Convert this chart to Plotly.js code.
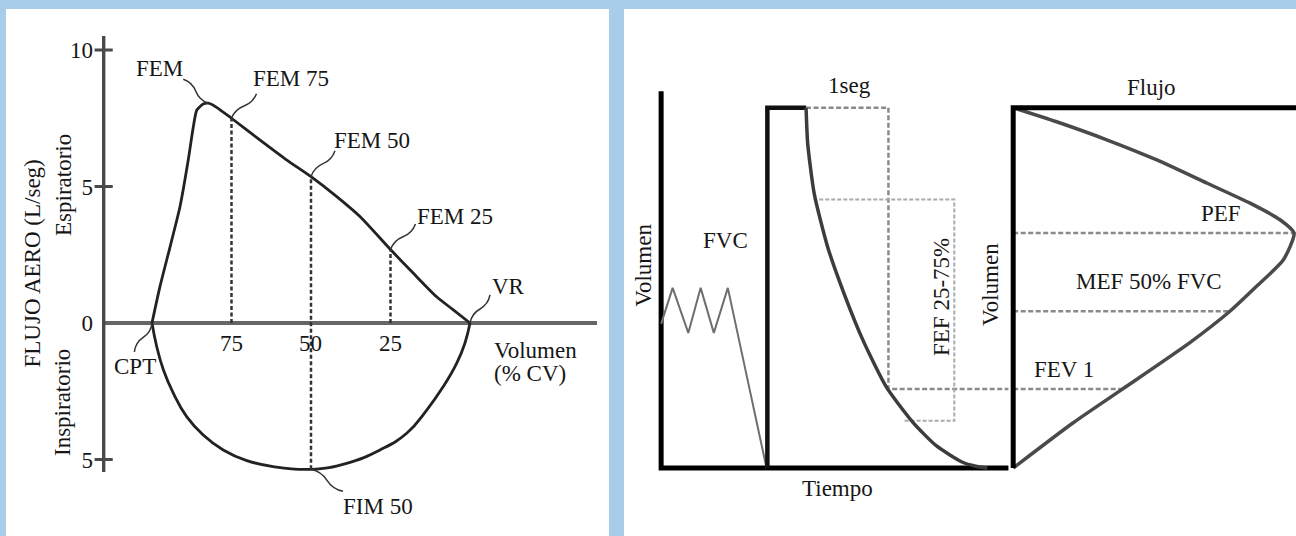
<!DOCTYPE html>
<html><head><meta charset="utf-8">
<script src="https://cdn.plot.ly/plotly-3.0.1.min.js"></script>
<style>html,body{margin:0;padding:0;background:#a9cce9;}#chart{width:1296px;height:536px;}</style>
</head><body><div id="chart"></div>
<script>
// ===== Left panel: flow-volume loop (x = % CV, y = L/seg) =====
const expVolume = [100, 97.5, 94.3, 91.2, 88.6, 87, 85.9, 83.9, 82.3, 79.7, 75, 66, 57.6, 50, 41.9, 34.6, 25, 17.8, 10.5, 5.25, 0];
const expFlow   = [0, 1.33, 2.8, 4.26, 5.97, 7.19, 7.8, 8.02, 8.05, 7.9, 7.5, 6.7, 5.97, 5.36, 4.63, 3.9, 2.69, 1.82, 0.96, 0.48, 0];
const inspVolume = [100, 98.5, 96.4, 93.3, 89.1, 83.9, 77.6, 70.2, 61.9, 50, 38.8, 28.3, 19.9, 13.6, 8.4, 4.2, 1.6, 0];
const inspFlow   = [0, -0.87, -1.72, -2.57, -3.43, -4.10, -4.65, -5.04, -5.26, -5.36, -5.14, -4.65, -4.04, -3.19, -2.33, -1.48, -0.74, 0];
const markVolumes = [75, 50, 25];
const markExpFlow = [7.5, 5.36, 2.69];
const fim50Flow = -5.36;
const yAxisVol = 115.2;
const yAxisSpan = [10.513, -5.458];
const yTickVals = [10, 5, 0, -5];
const yTickText = ['10', '5', '0', '5'];
const yCrossTicks = [10, 5, -5];
const xTickText = ['75', '50', '25'];

// ===== Right panel: spirogram (x = tiempo s, y = volumen %) =====
const spiroAxisT = [-1.76, -1.76, 2.457];
const spiroAxisV = [104.6, 0, 0];
const tidalT = [-1.76, -1.62, -1.43, -1.28, -1.12, -0.95, -0.48];
const tidalV = [40, 50, 37.5, 50, 37.5, 50, 0];
const inhaleT = [-0.47, -0.47, 0];
const inhaleV = [0, 100, 100];
const forcedT = [0, 0.02, 0.10, 0.26, 0.46, 0.70, 0.98, 1.30, 1.58, 1.90, 2.06, 2.20];
const forcedV = [100, 90, 76, 61.5, 48.5, 35, 22.3, 12.6, 6.2, 1.6, 0.5, 0];
const fev1Vol = 21.9;
const oneSecT = [0, 1, 1, 2.457];
const oneSecV = [100, 100, fev1Vol, fev1Vol];
const fefBoxT = [0.16, 1.80, 1.80, 1.18];
const fefBoxV = [74.5, 74.5, 13.1, 13.1];

// ===== Right panel: flow-volume (x = flujo, y = volumen %) =====
const fvFrameF = [10.1, 0, 0];
const fvFrameV = [100, 100, 0];
const fvFlow = [0, 1.55, 3.34, 5.13, 6.91, 8.46, 9.53, 10.03, 9.65, 8.70, 7.74, 6.31, 3.90, 2.13, 0];
const fvVol  = [100, 96.1, 91.1, 85.5, 79.1, 73.5, 68.9, 65.2, 57.8, 50.5, 43.5, 34.8, 21.9, 12.5, 0];
const pefVol = 65.2, pefLineEnd = 10.1;
const mefVol = 43.5, mefFlow = 7.74;
const fev1Flow = 3.90;

const W = 1296, H = 536;
const px = x => x / W;
const py = y => 1 - y / H;
const FONT = '"Liberation Serif", "Times New Roman", serif';
const TXT = '#161616';

const traces = [];
// left y axis line
traces.push({x: [yAxisVol, yAxisVol], y: yAxisSpan, mode: 'lines', line: {color: '#4a4a4a', width: 3.5}, xaxis: 'x', yaxis: 'y', hoverinfo: 'skip'});
// left loop
traces.push({x: expVolume, y: expFlow, mode: 'lines', line: {color: '#222', width: 2.8, shape: 'spline', smoothing: 0.6}, xaxis: 'x', yaxis: 'y', hoverinfo: 'skip'});
traces.push({x: inspVolume, y: inspFlow, mode: 'lines', line: {color: '#222', width: 2.8, shape: 'spline', smoothing: 1.3}, xaxis: 'x', yaxis: 'y', hoverinfo: 'skip'});
// dashed verticals
const dashX = [], dashY = [];
markVolumes.forEach((v, i) => {
  const lo = v === 50 ? fim50Flow : 0;
  dashX.push(v, v, null); dashY.push(lo, markExpFlow[i], null);
});
traces.push({x: dashX, y: dashY, mode: 'lines', line: {color: '#333', width: 2.5, dash: '4px,2.5px'}, xaxis: 'x', yaxis: 'y', hoverinfo: 'skip'});
// crossing ticks on the y axis
traces.push({x: yCrossTicks.map(() => yAxisVol), y: yCrossTicks, mode: 'markers', cliponaxis: false,
  marker: {symbol: 'line-ew', size: 13, line: {width: 3, color: '#4a4a4a'}}, xaxis: 'x', yaxis: 'y', hoverinfo: 'skip'});

// spirogram
traces.push({x: spiroAxisT, y: spiroAxisV, mode: 'lines', line: {color: '#000', width: 5}, xaxis: 'x2', yaxis: 'y2', hoverinfo: 'skip'});
traces.push({x: tidalT, y: tidalV, mode: 'lines', line: {color: '#6e6e6e', width: 2}, xaxis: 'x2', yaxis: 'y2', hoverinfo: 'skip'});
traces.push({x: inhaleT, y: inhaleV, mode: 'lines', line: {color: '#111', width: 4.5}, xaxis: 'x2', yaxis: 'y2', hoverinfo: 'skip'});
traces.push({x: oneSecT, y: oneSecV, mode: 'lines', line: {color: '#8a8a8a', width: 2.5, dash: '5px,2.5px'}, xaxis: 'x2', yaxis: 'y2', hoverinfo: 'skip'});
traces.push({x: fefBoxT, y: fefBoxV, mode: 'lines', line: {color: '#aaaaaa', width: 2, dash: '4px,2px'}, xaxis: 'x2', yaxis: 'y2', hoverinfo: 'skip'});
traces.push({x: forcedT, y: forcedV, mode: 'lines', line: {color: '#3c3c3c', width: 3.5, shape: 'spline', smoothing: 0.6}, xaxis: 'x2', yaxis: 'y2', hoverinfo: 'skip'});

// flow-volume
traces.push({x: [0, pefLineEnd, null, 0, mefFlow, null, 0, fev1Flow], y: [pefVol, pefVol, null, mefVol, mefVol, null, fev1Vol, fev1Vol],
  mode: 'lines', line: {color: '#8a8a8a', width: 2.5, dash: '5px,2.5px'}, xaxis: 'x3', yaxis: 'y2', hoverinfo: 'skip'});
traces.push({x: fvFlow, y: fvVol, mode: 'lines', line: {color: '#4a4a4a', width: 3.5, shape: 'spline', smoothing: 0.6}, xaxis: 'x3', yaxis: 'y2', hoverinfo: 'skip'});
traces.push({x: fvFrameF, y: fvFrameV, mode: 'lines', line: {color: '#000', width: 5}, xaxis: 'x3', yaxis: 'y2', hoverinfo: 'skip'});

// squiggle leaders (pixel offsets from anchor, y up)
function squiggle(dx, dy) {
  const L = Math.hypot(dx, dy), nx = -dy / L * 4, ny = dx / L * 4;
  const c1x = dx * 0.25 + nx, c1y = dy * 0.25 + ny;
  return `M0,0 Q${c1x.toFixed(1)},${c1y.toFixed(1)} ${(dx/2).toFixed(1)},${(dy/2).toFixed(1)} T${dx.toFixed(1)},${dy.toFixed(1)}`;
}
const leaders = [
  [expVolume[8], expFlow[8], -25, 24],
  [75, 7.5, 25, 24.5],
  [50, 5.36, 24, 26],
  [25, 2.69, 25, 25.6],
  [0, 0, 20, 28],
  [100, 0, -17.6, -29],
  [50, fim50Flow, 32, -22]
];
const shapes = [
  {type: 'rect', xref: 'paper', yref: 'paper', x0: px(6), x1: px(609), y0: 0, y1: py(9), fillcolor: '#ffffff', line: {width: 0}, layer: 'below'},
  {type: 'rect', xref: 'paper', yref: 'paper', x0: px(624), x1: 1, y0: 0, y1: py(9), fillcolor: '#ffffff', line: {width: 0}, layer: 'below'}
];
leaders.forEach(([xv, yv, dx, dy]) => {
  shapes.push({type: 'path', xref: 'x', yref: 'y', xsizemode: 'pixel', ysizemode: 'pixel', xanchor: xv, yanchor: yv,
    path: squiggle(dx, dy), line: {color: '#333', width: 1.5}, layer: 'above'});
});

function ann(text, x, y, o) {
  return Object.assign({text, x: px(x), y: py(y), xref: 'paper', yref: 'paper', showarrow: false,
    font: {family: FONT, size: 23, color: TXT}, xanchor: 'center', yanchor: 'middle'}, o || {});
}
const annotations = [
  ann('FEM', 159, 68), ann('FEM 75', 291, 79), ann('FEM 50', 372, 140), ann('FEM 25', 455, 216),
  ann('VR', 508, 286), ann('CPT', 135, 366), ann('FIM 50', 378, 506),
  ann('Volumen', 492, 350, {xanchor: 'left'}), ann('(% CV)', 492, 373, {xanchor: 'left'}),
  ann('FLUJO AERO (L/seg)', 31.5, 264, {textangle: -90}),
  ann('Espiratorio', 63, 185, {textangle: -90}),
  ann('Inspiratorio', 62, 403, {textangle: -90}),
  ann('Volumen', 642.7, 265, {textangle: -90}),
  ann('FVC', 725, 240.5), ann('1seg', 849, 86),
  ann('FEF 25-75%', 941, 297, {textangle: -90}),
  ann('Volumen', 990, 284, {textangle: -90}),
  ann('Flujo', 1151, 87), ann('PEF', 1221, 213.6), ann('MEF 50% FVC', 1149, 281),
  ann('FEV 1', 1063.5, 369), ann('Tiempo', 837.7, 488)
];
markVolumes.forEach((v, i) => annotations.push({text: xTickText[i], x: v, y: 0, xref: 'x', yref: 'y', showarrow: false,
  yshift: -21, font: {family: FONT, size: 23, color: TXT}, xanchor: 'center', yanchor: 'middle'}));

const hidden = {visible: false, showgrid: false, zeroline: false, fixedrange: true};
const layout = {
  width: W, height: H, margin: {l: 0, r: 0, t: 0, b: 0}, showlegend: false,
  paper_bgcolor: '#a9cce9', plot_bgcolor: 'rgba(0,0,0,0)',
  xaxis: {domain: [px(102), px(597)], range: [115.72, -39.94], showgrid: false, zeroline: false, showline: false,
    showticklabels: false, ticks: '', fixedrange: true},
  yaxis: {domain: [py(500), py(36)], range: [-6.484, 10.513], showgrid: false, zeroline: true, zerolinecolor: '#666', zerolinewidth: 3.5,
    showline: false, ticks: '', tickvals: yTickVals, ticktext: yTickText,
    ticklabelstandoff: 8, tickfont: {family: FONT, size: 23, color: TXT}, fixedrange: true},
  xaxis2: Object.assign({domain: [px(630), px(1025)], range: [-2.1379, 2.6583], anchor: 'y2'}, hidden),
  xaxis3: Object.assign({domain: [px(1000), 1], range: [-0.4714, 10.1], anchor: 'y2'}, hidden),
  yaxis2: Object.assign({domain: [py(500), py(60)], range: [-8.88, 113.24], anchor: 'x2'}, hidden),
  shapes, annotations
};
Plotly.newPlot('chart', traces, layout, {staticPlot: true, displayModeBar: false});
</script></body></html>
